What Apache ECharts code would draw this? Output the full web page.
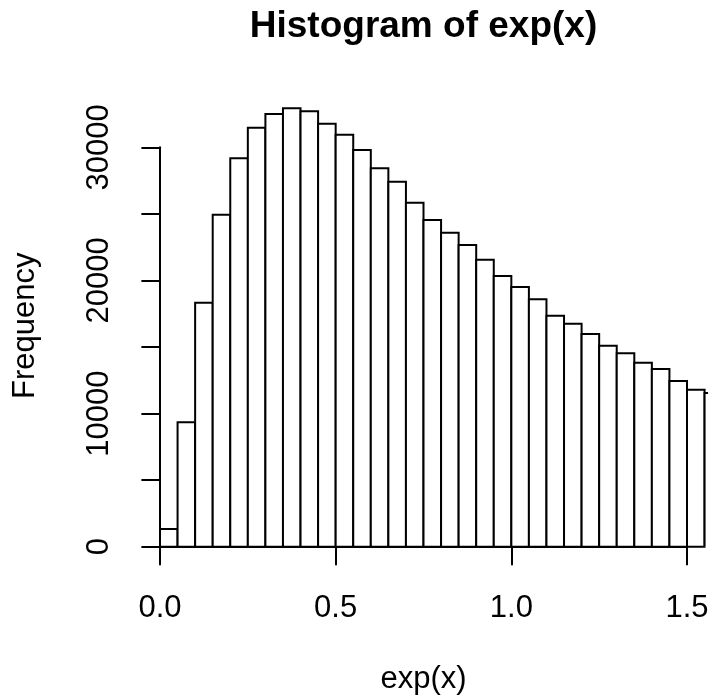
<!DOCTYPE html>
<html>
<head>
<meta charset="utf-8">
<script src="https://cdn.jsdelivr.net/npm/echarts@6/dist/echarts.min.js"></script>
<style>
html,body{margin:0;padding:0;background:#fff;}
#chart{width:714px;height:700px;}
</style>
</head>
<body>
<div id="chart"></div>
<script>
// ---- data ----
const binLefts = [0.00,0.05,0.10,0.15,0.20,0.25,0.30,0.35,0.40,0.45,0.50,0.55,0.60,0.65,0.70,0.75,
                  0.80,0.85,0.90,0.95,1.00,1.05,1.10,1.15,1.20,1.25,1.30,1.35,1.40,1.45,1.50,1.55];
const binWidth = 0.05;
const counts = [1330,9344,18328,24938,29175,31473,32502,32930,32705,31774,30947,29798,28423,27417,25839,24540,
                23586,22662,21558,20334,19507,18583,17352,16751,15977,15098,14527,13821,13348,12447,11793,11545];
const xTicks = [0, 0.5, 1.0, 1.5];
const yTicks = [0, 10000, 20000, 30000];
const xClip = 1.56;   // right end of plot region (R usr range)
const titleText = 'Histogram of exp(x)';
const xName = 'exp(x)';
const yName = 'Frequency';

const FONT = 'Liberation Sans, Arial, Helvetica, sans-serif';
const LW = 2;
const chart = echarts.init(document.getElementById('chart'), null, {renderer: 'canvas'});

const axisBase = {
  axisLine: {show: true, lineStyle: {color: '#000', width: LW}},
  axisTick: {show: true, inside: false, length: 18.6, lineStyle: {color: '#000', width: LW}},
  splitLine: {show: false},
};

const option = {
  backgroundColor: '#fff',
  animation: false,
  graphic: [{
    type: 'text', x: 423.5, y: 8,
    style: {text: titleText, font: 'bold 37px ' + FONT, fill: '#000', textAlign: 'center', textVerticalAlign: 'top'}
  }],
  grid: [
    {left: 160, right: 27, top: 147.3, bottom: 153.3, containLabel: false},
    {left: 139, right: 6, top: 85, bottom: 133.4, containLabel: false}
  ],
  xAxis: [
    Object.assign({}, axisBase, {
      gridIndex: 0, type: 'value', min: xTicks[0], max: xTicks[xTicks.length - 1], interval: 0.5,
      position: 'bottom', offset: 20,
      axisLabel: {color: '#000', fontSize: 31, fontFamily: FONT, margin: 26,
                  formatter: v => xTicks.some(t => Math.abs(t - v) < 1e-9) ? v.toFixed(1) : ''}
    }),
    {gridIndex: 1, type: 'value', min: -0.06, max: xClip, show: true,
     axisLine: {show: false}, axisTick: {show: false}, axisLabel: {show: false}, splitLine: {show: false},
     name: xName, nameLocation: 'middle', nameGap: 97,
     nameTextStyle: {color: '#000', fontSize: 31, fontFamily: FONT}}
  ],
  yAxis: [
    Object.assign({}, axisBase, {
      gridIndex: 0, type: 'value', min: 0, max: 30000, interval: 5000,
      position: 'left', offset: 21,
      axisLabel: {color: '#000', fontSize: 31, fontFamily: FONT, margin: 24, rotate: 90,
                  formatter: v => yTicks.indexOf(v) >= 0 ? String(v) : ''}
    }),
    {gridIndex: 1, type: 'value', min: 0, max: 1, show: true,
     axisLine: {show: false}, axisTick: {show: false}, axisLabel: {show: false}, splitLine: {show: false},
     name: yName, nameLocation: 'middle', nameGap: 98,
     nameTextStyle: {color: '#000', fontSize: 31, fontFamily: FONT}}
  ],
  series: [{
    type: 'custom',
    xAxisIndex: 0, yAxisIndex: 0,
    clip: false,
    data: binLefts.map((b, i) => [b, counts[i]]),
    encode: {x: 0, y: 1},
    renderItem: function (params, api) {
      const x0 = api.value(0), h = api.value(1);
      const pTop = api.coord([x0, h]);
      const pBot = api.coord([x0 + binWidth, 0]);
      const xMax = api.coord([xClip, 0])[0];
      const left = pTop[0], top = pTop[1], bottom = pBot[1];
      if (left >= xMax) return null;
      const style = {fill: '#fff', stroke: '#000', lineWidth: LW};
      if (pBot[0] <= xMax) {
        return {type: 'rect', shape: {x: left, y: top, width: pBot[0] - left, height: bottom - top}, style: style};
      }
      return {type: 'group', children: [
        {type: 'rect', shape: {x: left, y: top, width: xMax - left, height: bottom - top}, style: {fill: '#fff', lineWidth: 0}},
        {type: 'polyline', shape: {points: [[left, bottom], [left, top], [xMax, top]]}, style: {fill: null, stroke: '#000', lineWidth: LW}}
      ]};
    }
  }]
};
chart.setOption(option);
</script>
</body>
</html>
